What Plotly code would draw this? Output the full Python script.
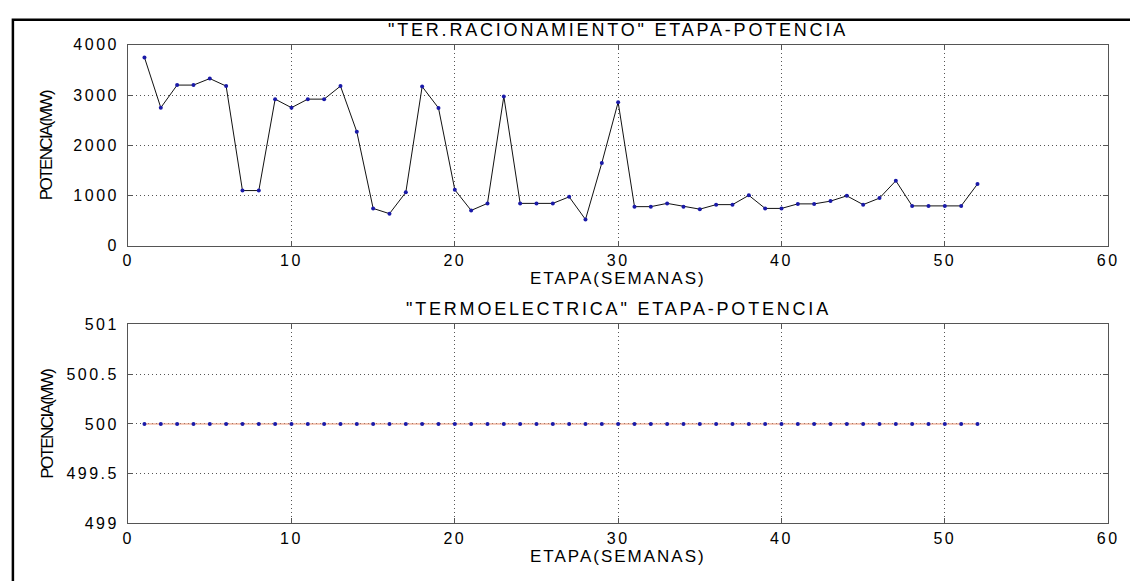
import plotly.graph_objects as go

W, H = 1130, 581

# Weekly stages and power values (MW)
semanas = list(range(1, 53))
ter_racionamiento = [3750, 2750, 3200, 3200, 3330, 3180, 1100, 1100, 2920, 2750,
                     2920, 2920, 3180, 2270, 745, 640, 1065, 3170, 2745, 1115,
                     705, 845, 2975, 845, 845, 845, 975, 525, 1650, 2860,
                     780, 780, 845, 780, 730, 820, 820, 1005, 745, 745,
                     835, 835, 890, 995, 820, 950, 1295, 795, 795, 795, 795, 1230]
termoelectrica = [500, 500, 500, 500, 500, 500, 500, 500, 500, 500,
                  500, 500, 500, 500, 500, 500, 500, 500, 500, 500,
                  500, 500, 500, 500, 500, 500, 500, 500, 500, 500,
                  500, 500, 500, 500, 500, 500, 500, 500, 500, 500,
                  500, 500, 500, 500, 500, 500, 500, 500, 500, 500,
                  500, 500]

x_ticks = [0, 10, 20, 30, 40, 50, 60]
y_ticks_top = [0, 1000, 2000, 3000, 4000]
y_ticks_bottom = [499, 499.5, 500, 500.5, 501]

titulo_sup = '"TER.RACIONAMIENTO" ETAPA-POTENCIA'
titulo_inf = '"TERMOELECTRICA" ETAPA-POTENCIA'
etiqueta_x = "ETAPA(SEMANAS)"
etiqueta_y = "POTENCIA(MW)"

FONT = "Liberation Sans"


def spaced(text, ls):
    return f'<span style="letter-spacing:{ls}px">{text}</span>'


def fmt(v):
    return f"{v:g}"


def px_x(p):
    return p / W


def px_y(p):
    return 1 - p / H


x_dom = [px_x(124), px_x(1119)]
top_dom = [px_y(245), px_y(38)]
bot_dom = [px_y(531), px_y(326)]

fig = go.Figure()

fig.add_trace(go.Scatter(
    x=semanas, y=ter_racionamiento, mode="lines+markers",
    line=dict(color="#111111", width=1),
    marker=dict(color="#1a1aa8", size=4),
    xaxis="x", yaxis="y", showlegend=False,
))
fig.add_trace(go.Scatter(
    x=semanas, y=termoelectrica, mode="lines+markers",
    line=dict(color="#e8906f", width=1),
    marker=dict(color="#1a1aa8", size=4),
    xaxis="x2", yaxis="y2", showlegend=False,
))

tick_font = dict(family=FONT, size=16, color="black")
axis_common = dict(
    showline=True, linecolor="#555555", linewidth=1, mirror="ticks",
    ticks="inside", ticklen=5, tickcolor="#555555",
    showgrid=True, gridcolor="#555555", gridwidth=1, griddash="1px,3px",
    zeroline=False, tickfont=tick_font, ticklabeloverflow="allow",
)

xaxis_cfg = dict(axis_common, range=[0, 60], tickvals=x_ticks,
                 ticktext=[spaced(fmt(v), 2.5) for v in x_ticks], domain=x_dom)

fig.update_layout(
    width=W, height=H,
    margin=dict(l=0, r=0, t=0, b=0),
    paper_bgcolor="white", plot_bgcolor="white",
    xaxis=dict(xaxis_cfg, anchor="y"),
    yaxis=dict(axis_common, range=[0, 4000], tickvals=y_ticks_top,
               ticktext=[spaced(fmt(v), 2.5) for v in y_ticks_top],
               domain=top_dom, anchor="x", ticklabelstandoff=5),
    xaxis2=dict(xaxis_cfg, anchor="y2"),
    yaxis2=dict(axis_common, range=[499, 501], tickvals=y_ticks_bottom,
                ticktext=[spaced(fmt(v), 2.5) for v in y_ticks_bottom],
                domain=bot_dom, anchor="x2", ticklabelstandoff=5),
)

cx = (124 + 1119) / 2 / W
label_font = dict(family=FONT, size=17, color="black")
ylabel_font = dict(family=FONT, size=17, color="black")
annotations = [
    dict(text=spaced(titulo_sup, 2.8), x=cx, y=px_y(23), font=dict(label_font, size=18)),
    dict(text=spaced(titulo_inf, 2.8), x=cx, y=px_y(310), font=dict(label_font, size=18)),
    dict(text=spaced(etiqueta_x, 2.0), x=cx, y=px_y(279), font=label_font),
    dict(text=spaced(etiqueta_x, 2.0), x=cx, y=px_y(565), font=label_font),
    dict(text=spaced(etiqueta_y, -1.6), x=px_x(42), y=px_y(141),
         textangle=-90, font=ylabel_font),
    dict(text=spaced(etiqueta_y, -1.6), x=px_x(42), y=px_y(428),
         textangle=-90, font=ylabel_font),
]
for a in annotations:
    a.update(xref="paper", yref="paper", showarrow=False,
             xanchor="center", yanchor="middle")
fig.update_layout(annotations=annotations)

# Outer black frame along the left and top edges
fig.add_shape(type="rect", xref="paper", yref="paper",
              x0=px_x(7), x1=1.02, y0=-0.02, y1=px_y(12),
              line=dict(color="black", width=2.5), fillcolor="rgba(0,0,0,0)")

fig.write_html("out.html")
